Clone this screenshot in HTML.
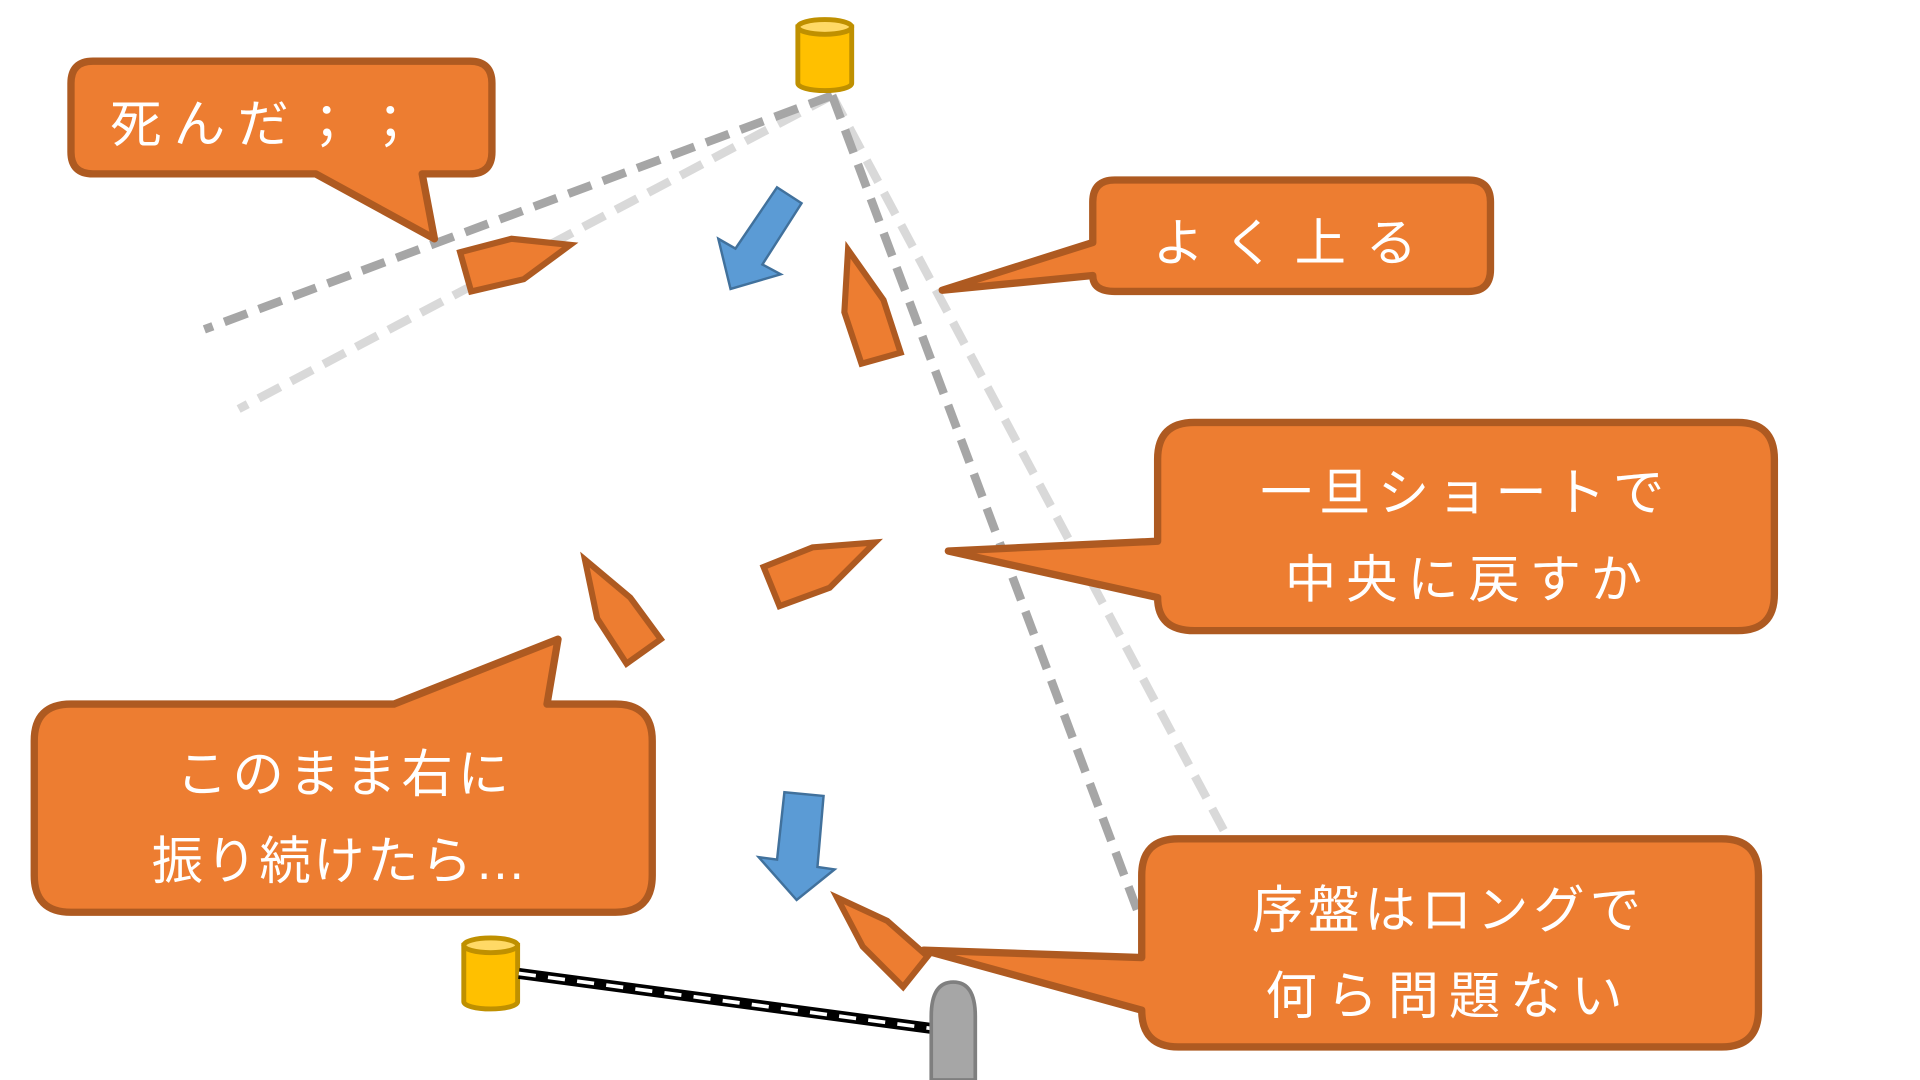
<!DOCTYPE html>
<html><head><meta charset="utf-8"><style>
html,body{margin:0;padding:0;background:#fff;width:1920px;height:1080px;overflow:hidden}
svg{display:block}
text{font-family:"Liberation Sans","Noto Sans CJK JP",sans-serif;fill:#fff;font-size:42px}
</style></head><body>
<svg width="1920" height="1080" viewBox="0 0 1569 882" preserveAspectRatio="none">
<g stroke-width="7" fill="none" stroke-dasharray="20,10">
<line x1="680" y1="78" x2="195" y2="334" stroke="#D9D9D9"/>
<line x1="680" y1="78" x2="1000" y2="678" stroke="#D9D9D9"/>
<line x1="680" y1="78" x2="167" y2="269" stroke="#A6A6A6"/>
<line x1="680" y1="78" x2="930" y2="745" stroke="#A6A6A6"/>
</g>
<g stroke="#BF9000" stroke-width="4">
<path d="M652,22 L652,68 A22,6 0 0 0 696,68 L696,22 Z" fill="#FFC000"/>
<ellipse cx="674" cy="22" rx="22" ry="6" fill="#FFD966"/>
</g>
<g stroke="#BF9000" stroke-width="4">
<path d="M379,772 L379,818 A22,6 0 0 0 423,818 L423,772 Z" fill="#FFC000"/>
<ellipse cx="401" cy="772" rx="22" ry="6" fill="#FFD966"/>
</g>
<line x1="424" y1="795" x2="762" y2="840" stroke="#000" stroke-width="9"/>
<line x1="424" y1="795" x2="762" y2="840" stroke="#fff" stroke-width="3" stroke-dasharray="14,10"/>
<path d="M761,882 L761,830 Q761,802 779,802 Q797,802 797,830 L797,882 Z" fill="#A6A6A6" stroke="#7F7F7F" stroke-width="3"/>
<g fill="#5B9BD5" stroke="#41719C" stroke-width="2">
<polygon points="635,153 655,166 623,216 638,224 597,236 587,195 601,203"/>
<polygon points="641,647 673,650 668,708 682,710 651,735 620,700 635,702"/>
</g>
<g fill="#ED7D31" stroke="#AE5A21" stroke-width="5" stroke-linejoin="miter">
<polygon points="376,206 418,195 466,200 428,228 385,238"/>
<polygon points="693,204 722,245 736,288 704,297 690,255"/>
<polygon points="624,463 664,447 715,443 678,480 637,495"/>
<polygon points="478,457 515,488 540,522 512,542 488,505"/>
<polygon points="684,733 725,752 758,781 738,806 705,773"/>
</g>
<g fill="#ED7D31" stroke="#AE5A21" stroke-width="6" stroke-linejoin="round">
<path d="M76,50 H384 Q402,50 402,68 V124 Q402,142 384,142 H345 L355,195 L258,142 H76 Q58,142 58,124 V68 Q58,50 76,50 Z"/>
<path d="M911,147 H1200 Q1218,147 1218,165 V220 Q1218,238 1200,238 H911 Q893,238 893,225 L770,237 L893,198 V165 Q893,147 911,147 Z"/>
<path d="M976,345 H1420 Q1450,345 1450,375 V485 Q1450,515 1420,515 H976 Q946,515 946,488 L775,450 L946,442 V375 Q946,345 976,345 Z"/>
<path d="M58,575 H322 L456,522 L447,575 H503 Q533,575 533,605 V715 Q533,745 503,745 H58 Q28,745 28,715 V605 Q28,575 58,575 Z"/>
<path d="M963,685 H1407 Q1437,685 1437,715 V825 Q1437,855 1407,855 H963 Q933,855 933,825 L755,776 L933,782 V715 Q933,685 963,685 Z"/>
</g>
<text x="90" y="116" letter-spacing="10">死んだ；；</text>
<text x="942" y="213" letter-spacing="16">よく上る</text>
<text x="1198" y="417" text-anchor="middle" letter-spacing="6">一旦ショートで</text>
<text x="1200" y="488" text-anchor="middle" letter-spacing="8">中央に戻すか</text>
<text x="282" y="647" text-anchor="middle" letter-spacing="4">このまま右に</text>
<text x="278" y="718" text-anchor="middle" letter-spacing="2">振り続けたら…</text>
<text x="1184" y="758" text-anchor="middle" letter-spacing="4">序盤はロングで</text>
<text x="1184" y="828" text-anchor="middle" letter-spacing="8">何ら問題ない</text>
</svg>
</body></html>
